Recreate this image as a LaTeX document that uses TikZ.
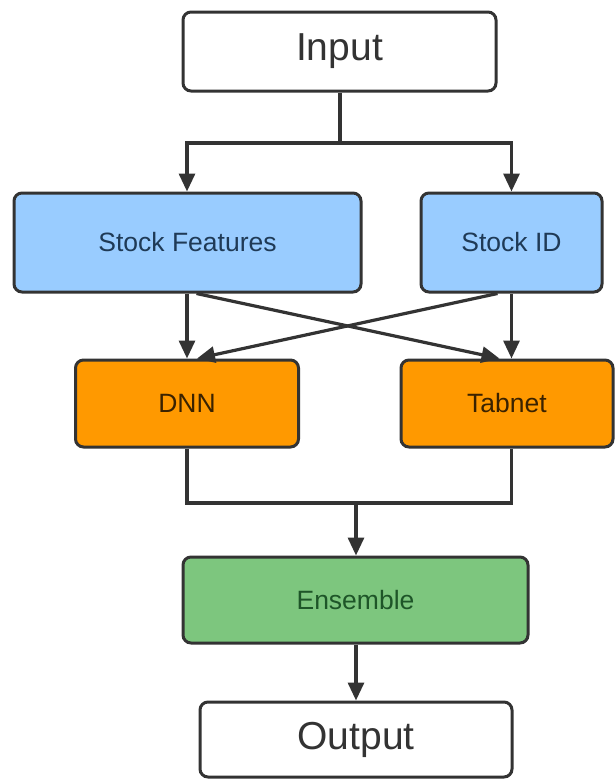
\documentclass[tikz,border=0pt]{standalone}
\usepackage{fontspec}
\setmainfont{Liberation Sans}
\usetikzlibrary{arrows.meta,calc}
\definecolor{edge}{HTML}{333333}
\definecolor{bluefill}{HTML}{99CCFF}
\definecolor{orangefill}{HTML}{FF9900}
\definecolor{greenfill}{HTML}{7DC67E}
\definecolor{bluetext}{HTML}{1F3A56}
\definecolor{orangetext}{HTML}{3A2200}
\definecolor{greentext}{HTML}{1E5528}
\tikzset{
  box/.style={draw=edge, line width=3pt, rounded corners=8pt, inner sep=0pt, align=center},
  endbox/.style={box, fill=white, text=edge, font=\fontsize{39}{43}\selectfont},
  featbox/.style={box, fill=bluefill, text=bluetext, font=\fontsize{26.5}{30}\selectfont},
  modelbox/.style={box, fill=orangefill, text=orangetext, font=\fontsize{26.5}{30}\selectfont},
  mixbox/.style={box, fill=greenfill, text=greentext, font=\fontsize{26.5}{30}\selectfont},
  link/.style={draw=edge, line width=3.2pt},
  arrow/.style={link, -{Triangle[length=18pt,width=16pt]}},
}
\begin{document}
\begin{tikzpicture}[x=1pt,y=-1pt]
  \useasboundingbox (0,0) rectangle (616,780);
  % boxes
  \node[endbox, minimum width=313pt, minimum height=79pt] (in) at (339.5,51.5) {Input};
  \node[featbox, minimum width=347pt, minimum height=99pt] (sf) at (187.5,242.5) {Stock Features};
  \node[featbox, minimum width=181pt, minimum height=99pt] (sid) at (511.5,242.5) {Stock ID};
  \node[modelbox, minimum width=223pt, minimum height=87pt] (dnn) at (187,403.5) {DNN};
  \node[modelbox, minimum width=212pt, minimum height=87pt] (tab) at (507,403.5) {Tabnet};
  \node[mixbox, minimum width=345pt, minimum height=86pt] (ens) at (355.5,600) {Ensemble};
  \node[endbox, minimum width=312pt, minimum height=75pt] (out) at (356,739.5) {Output};
  % split below the input
  \coordinate (split) at (340,143);
  \coordinate (merge) at (356,503);
  \draw[link] (in.south -| split) -- (split);
  \draw[arrow] (split) -| (sf.north -| dnn.south);
  \draw[arrow] (split) -| (sid.north);
  % features into the two models
  \draw[arrow] (sf.south -| dnn.south) -- (dnn.north);
  \draw[arrow] ($(sf.south)+(9,0)$) -- ($(tab.north -| sid.south)+(-12,0)$);
  \draw[arrow] ($(sid.south)+(-14,0)$) -- ($(dnn.north)+(10,0)$);
  \draw[arrow] (sid.south) -- (sid.south |- tab.north);
  % models into the ensemble
  \draw[link] (dnn.south) |- (merge);
  \draw[link] (sid.south |- tab.south) |- (merge);
  \draw[arrow] (merge) -- (ens.north -| merge);
  \draw[arrow] (ens.south -| merge) -- (out.north -| merge);
\end{tikzpicture}
\end{document}
